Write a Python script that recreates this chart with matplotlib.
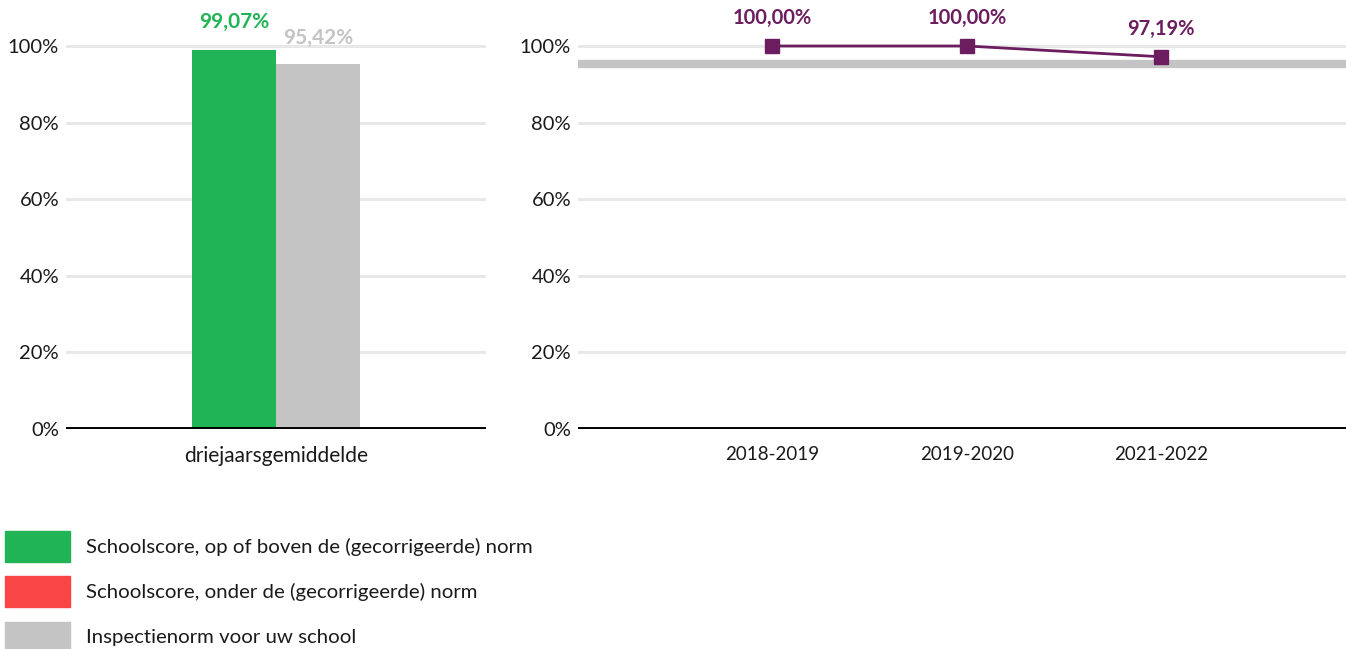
import matplotlib.pyplot as plt
from matplotlib.patches import Rectangle

plt.rcParams['font.family'] = ['Lato', 'DejaVu Sans']

# data
bar_category = ['driejaarsgemiddelde']
school_score = [99.07]
norm_score = [95.42]

years = ['2018-2019', '2019-2020', '2021-2022']
year_scores = [100.00, 100.00, 97.19]

yticks = [0, 20, 40, 60, 80, 100]

legend_labels = ['Schoolscore, op of boven de (gecorrigeerde) norm',
                 'Schoolscore, onder de (gecorrigeerde) norm',
                 'Inspectienorm voor uw school']

GREEN = '#21b457'
RED = '#f94545'
GRAY = '#c4c4c4'
PURPLE = '#6b1d5f'
GRID = '#e8e8e8'

W, H = 1346, 649
fig = plt.figure(figsize=(W / 100, H / 100), dpi=100)

def fmt(v):
    return f'{v:.2f}'.replace('.', ',') + '%'

def style_axis(ax):
    ax.set_ylim(0, 105)
    ax.set_yticks(yticks)
    ax.set_yticklabels([f'{t}%' for t in yticks], fontsize=14.5, color='#1a1a1a')
    for t in yticks[1:]:
        ax.axhline(t, color=GRID, lw=2.2, zorder=0)
    ax.axhline(0, color='black', lw=2.8, zorder=5)
    for s in ax.spines.values():
        s.set_visible(False)
    ax.tick_params(axis='both', length=0, pad=5)
    ax.tick_params(axis='x', pad=12)

# left: three year average
ax1 = fig.add_axes([66 / W, (H - 429) / H, 420 / W, 383 * 1.05 / H])
style_axis(ax1)
ax1.set_xlim(-0.5, 0.5)
ax1.bar([-0.1], school_score, width=0.2, color=GREEN, zorder=3)
ax1.bar([0.1], norm_score, width=0.2, color=GRAY, zorder=3)
ax1.text(-0.1, school_score[0] + 7.2, fmt(school_score[0]), color=GREEN,
         fontsize=15, fontweight='bold', ha='center', va='center')
ax1.text(0.1, norm_score[0] + 6.7, fmt(norm_score[0]), color=GRAY,
         fontsize=15, fontweight='bold', ha='center', va='center')
ax1.set_xticks([0])
ax1.set_xticklabels(bar_category, fontsize=15, color='#1a1a1a')

# right: per year
ax2 = fig.add_axes([578 / W, (H - 429) / H, 768 / W, 383 * 1.05 / H])
style_axis(ax2)
x = list(range(len(years)))
ax2.set_xlim(-1.0, 2.95)
ax2.axhline(norm_score[0], color=GRAY, lw=6, zorder=1)
ax2.plot(x, year_scores, color=PURPLE, lw=2, marker='s', markersize=10, zorder=4)
for xi, v in zip(x, year_scores):
    ax2.text(xi, v + 7.2, fmt(v), color=PURPLE, fontsize=14.5, fontweight='bold',
             ha='center', va='center')
ax2.set_xticks(x)
ax2.set_xticklabels(years, fontsize=13.5, color='#1a1a1a')

# legend
colors = [GREEN, RED, GRAY]
tops = [531, 576, 622]
for c, top, lab in zip(colors, tops, legend_labels):
    fig.patches.append(Rectangle((5 / W, (H - top - 31) / H), 65 / W, 31 / H,
                                 color=c, transform=fig.transFigure, figure=fig))
    fig.text(86 / W, (H - top - 16) / H, lab, fontsize=14.7, color='#1a1a1a', va='center')

fig.savefig('out.png', dpi=100)
